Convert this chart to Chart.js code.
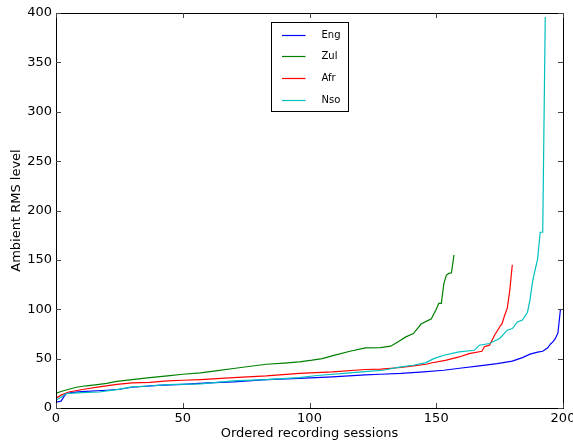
<!DOCTYPE html>
<html>
<head>
<meta charset="utf-8">
<script src="https://cdn.jsdelivr.net/npm/chart.js@4/dist/chart.umd.min.js"></script>
<style>
html,body{margin:0;padding:0;background:#fff;}
canvas{display:block;}
</style>
</head>
<body>
<canvas id="c" width="573" height="441"></canvas>
<script>
// ---- data ----
const seriesNames = ["Eng", "Zul", "Afr", "Nso"];
const xTicks = [0, 50, 100, 150, 200];
const yTicks = [0, 50, 100, 150, 200, 250, 300, 350, 400];

const engIdx = [0,2,3,4,6,10,20,25,30,40,50,60,70,83,96,109,122,128,136,145,153,160,167,174,180,184,187,190,192,194,195,196,197,198,199];
const engVal = [6,7,11,14.5,15.5,16.5,18,19,21,23,24,25.5,26.5,28.8,30,31.5,33.5,34.2,35,36.5,38.2,40.5,42.6,45,47.5,51,54.5,56.5,57.5,61,64.6,67,70.4,76,100];

const zulIdx = [0,3,8,12,17,20,24,30,37,44,50,57,63,70,76,83,90,96,101,105,110,116,122,128,132,135,138,141,144,147,148,150,151,152,153,154,155,156,157];
const zulVal = [15,17.5,21,22.5,24,25,27,28.8,30.8,32.5,34.2,35.5,37.5,40,42,44.3,45.5,46.7,48.4,50,53.5,57.5,60.9,61.2,62.6,67,72,75.4,85,89,90,100,106,106,126,134.6,136.3,137,155];

const afrIdx = [0,2,5,11,17,24,30,37,44,50,57,70,83,96,109,122,128,136,141,146,148,154,159,163,168,169,171,173,175,176,177,178,179,180];
const afrVal = [10,13,16.2,19,21.3,24,25.4,26,27.4,28.1,28.8,30.8,32.5,35,36.5,39,39.3,41,42.6,44.3,45.6,48.4,51.7,55,57.5,62,63.6,73.7,82,85.6,94,100.8,119,145];

const nsoIdx = [0,2,4,10,17,24,30,37,44,57,70,83,96,103,116,123,129,136,141,146,149,153,159,165,167,171,175,178,180,182,184,186,187,188,189,190,191,192,193];
const nsoVal = [8,11,14.6,15.5,16.2,18.6,21.3,22.3,23.7,24.5,27.4,28.8,30.8,32.9,35.5,37,38.2,41.6,43.3,46,50,53.4,56.8,58.5,63.6,65.3,70.4,78.8,80.5,87.2,89,97,110,128,140,151,178,178,396];

const colors = ["#0000ff", "#008000", "#ff0000", "#00bfbf"];
const idxs = [engIdx, zulIdx, afrIdx, nsoIdx];
const vals = [engVal, zulVal, afrVal, nsoVal];

const font = {family: "'DejaVu Sans', sans-serif", size: 13};

const datasets = seriesNames.map((name, k) => ({
  label: name,
  data: idxs[k].map((x, i) => ({x: x, y: vals[k][i]})),
  borderColor: colors[k],
  backgroundColor: colors[k],
  borderWidth: 1.2,
  pointRadius: 0,
  tension: 0,
  fill: false,
  order: 4 - k
}));

const framePlugin = {
  id: 'frame',
  afterDraw(chart) {
    const ctx = chart.ctx;
    const a = chart.chartArea;
    const xs = chart.scales.x, ys = chart.scales.y;
    ctx.save();
    ctx.strokeStyle = '#000';
    ctx.lineWidth = 1;
    ctx.strokeRect(Math.round(a.left) + 0.5, Math.round(a.top) + 0.5, Math.round(a.right - a.left), Math.round(a.bottom - a.top));
    ctx.strokeStyle = '#444';
    const tl = 5;
    ctx.beginPath();
    xTicks.forEach(v => {
      const p = Math.round(xs.getPixelForValue(v)) + 0.5;
      ctx.moveTo(p, a.bottom); ctx.lineTo(p, a.bottom - tl);
      ctx.moveTo(p, a.top); ctx.lineTo(p, a.top + tl);
    });
    yTicks.forEach(v => {
      const p = Math.round(ys.getPixelForValue(v)) + 0.5;
      ctx.moveTo(a.left, p); ctx.lineTo(a.left + tl, p);
      ctx.moveTo(a.right, p); ctx.lineTo(a.right - tl, p);
    });
    ctx.stroke();

    // legend (upper center, framed)
    const w = 77, h = 89;
    const lx = Math.round((a.left + a.right) / 2 - w / 2) + 0.5;
    const ly = Math.round(a.top + 9) + 0.5;
    ctx.fillStyle = '#fff';
    ctx.fillRect(lx, ly, w, h);
    ctx.strokeStyle = '#000';
    ctx.strokeRect(lx, ly, w, h);
    ctx.font = "10px 'DejaVu Sans', sans-serif";
    ctx.textBaseline = 'middle';
    ctx.textAlign = 'left';
    seriesNames.forEach((name, k) => {
      const yy = ly + 12 + k * 21.8;
      ctx.strokeStyle = colors[k];
      ctx.lineWidth = 1.2;
      ctx.beginPath();
      ctx.moveTo(lx + 10.5, Math.round(yy) + 0.5);
      ctx.lineTo(lx + 34, Math.round(yy) + 0.5);
      ctx.stroke();
      ctx.fillStyle = '#000';
      ctx.fillText(name, lx + 50, yy + 0.5);
    });
    ctx.restore();
  }
};

new Chart(document.getElementById('c'), {
  type: 'line',
  data: {datasets},
  options: {
    responsive: false,
    animation: false,
    layout: {padding: {top: 13, right: 10, left: 0, bottom: 0}},
    plugins: {legend: {display: false}, tooltip: {enabled: false}},
    scales: {
      x: {
        type: 'linear', min: 0, max: 200,
        afterBuildTicks: s => { s.ticks = xTicks.map(v => ({value: v})); },
        ticks: {padding: 3, font: font, color: '#000', maxRotation: 0},
        grid: {display: false, drawTicks: false},
        border: {display: false},
        title: {display: true, text: 'Ordered recording sessions', font: font, color: '#000', padding: {top: 1, bottom: 0}},
        afterFit: s => { s.height = 33; s.paddingLeft = 0; s.paddingRight = 0; }
      },
      y: {
        type: 'linear', min: 0, max: 400,
        afterBuildTicks: s => { s.ticks = yTicks.map(v => ({value: v})); },
        ticks: {padding: 4, font: font, color: '#000'},
        grid: {display: false, drawTicks: false},
        border: {display: false},
        title: {display: true, text: 'Ambient RMS level', font: font, color: '#000', padding: {top: 9, bottom: 0}},
        afterFit: s => { s.width = 56; s.paddingTop = 0; s.paddingBottom = 0; }
      }
    }
  },
  plugins: [framePlugin]
});
</script>
</body>
</html>
